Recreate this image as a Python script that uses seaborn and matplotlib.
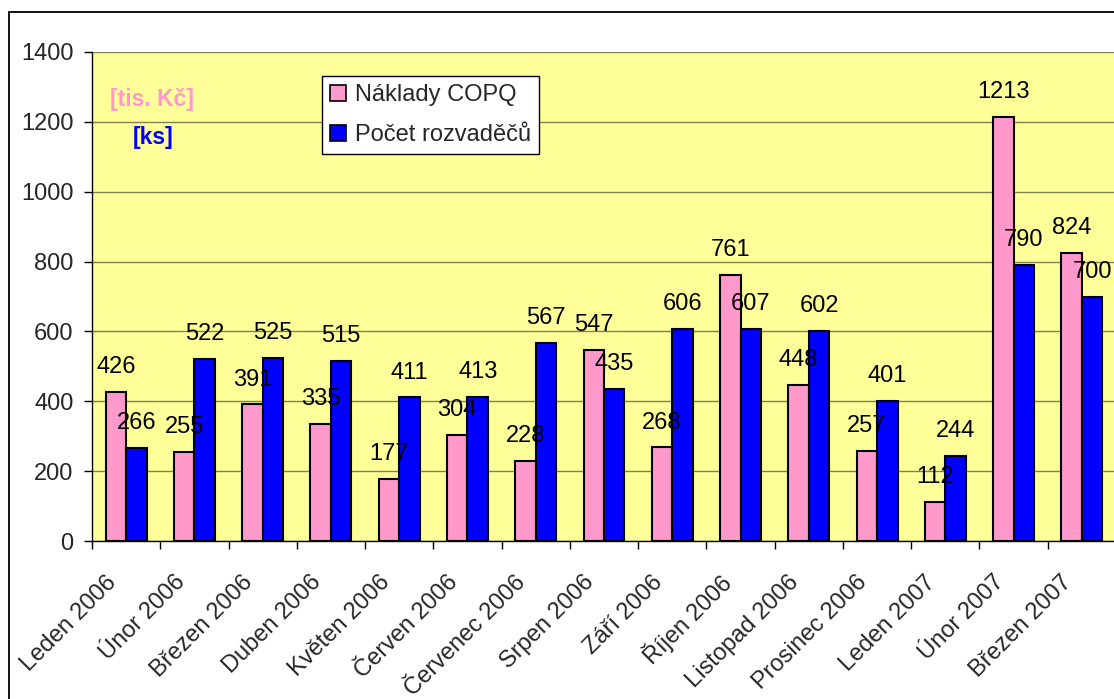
import matplotlib
matplotlib.use('Agg')
import matplotlib.pyplot as plt
import matplotlib.transforms as mtransforms
from matplotlib.patches import Rectangle
import seaborn as sns
import pandas as pd
import numpy as np

# ---- data ----
mesice = ["Leden 2006", "Únor 2006", "Březen 2006", "Duben 2006", "Květen 2006",
          "Červen 2006", "Červenec 2006", "Srpen 2006", "Září 2006", "Říjen 2006",
          "Listopad 2006", "Prosinec 2006", "Leden 2007", "Únor 2007", "Březen 2007"]
naklady = [426, 255, 391, 335, 177, 304, 228, 547, 268, 761, 448, 257, 112, 1213, 824]
pocet = [266, 522, 525, 515, 411, 413, 567, 435, 606, 607, 602, 401, 244, 790, 700]
serie = ["Náklady COPQ", "Počet rozvaděčů"]
y_ticks = [0, 200, 400, 600, 800, 1000, 1200, 1400]
jednotky = ["[tis. Kč]", "[ks]"]

barvy = ["#FF99CC", "#0000FF"]

sns.set_style("white")
plt.rcParams['font.family'] = ['Liberation Sans', 'DejaVu Sans']

df = pd.DataFrame({
    "mesic": mesice * 2,
    "hodnota": naklady + pocet,
    "serie": [serie[0]] * len(mesice) + [serie[1]] * len(mesice),
})

W, H = 1114, 699
fig = plt.figure(figsize=(W / 100, H / 100), dpi=100)
fig.patch.set_facecolor("white")
ax = fig.add_axes([92 / W, (H - 541) / H, 1024 / W, 489 / H])

sns.barplot(data=df, x="mesic", y="hodnota", hue="serie", order=mesice, hue_order=serie,
            palette=barvy, width=0.6, gap=0, edgecolor="black", linewidth=1.5,
            saturation=1, errorbar=None, ax=ax)

ax.set_facecolor("#FFFF99")
ax.set_xlim(-0.5, len(mesice) - 0.5)
ax.set_ylim(0, 1400)
ax.set_yticks(y_ticks)
ax.yaxis.grid(True, color="#808050", linewidth=1)
ax.xaxis.grid(False)
ax.set_axisbelow(True)
ax.set_xlabel("")
ax.set_ylabel("")

for s in ["top", "right"]:
    ax.spines[s].set_visible(False)
for s in ["left", "bottom"]:
    ax.spines[s].set_color("black")
    ax.spines[s].set_linewidth(1)

ax.tick_params(axis="y", which="major", direction="out", length=5.8, width=1,
               color="black", labelsize=17, pad=7.5, left=True)
ax.set_xticks(np.arange(len(mesice)))
ax.set_xticks(np.arange(-0.5, len(mesice), 1), minor=True)
ax.tick_params(axis="x", which="major", length=0, pad=0)
ax.tick_params(axis="x", which="minor", direction="out", length=5.8, width=1,
               color="black", bottom=True)
ax.set_xticklabels(mesice, rotation=45, ha="right", va="center",
                   rotation_mode="anchor", fontsize=17)
offset = mtransforms.ScaledTranslation(-13 / 100, -38 / 100, fig.dpi_scale_trans)
for lbl in ax.get_xticklabels():
    lbl.set_transform(lbl.get_transform() + offset)

# data labels
for cont in ax.containers:
    ax.bar_label(cont, fmt="%g", padding=10, fontsize=17, color="black")

# legend
leg = ax.legend(loc="upper left", bbox_to_anchor=(322 / W, 1 - 76 / H),
                bbox_transform=fig.transFigure, frameon=True, fancybox=False,
                edgecolor="black", framealpha=1, fontsize=17,
                handlelength=0.65, handleheight=0.65, handletextpad=0.4,
                labelspacing=0.75, borderpad=0.35, borderaxespad=0, title=None)
leg.get_frame().set_linewidth(1)
for h in leg.legend_handles:
    h.set_edgecolor("black")
    h.set_linewidth(1.2)

# unit texts
ax.text(0.0586, 0.902, jednotky[0], transform=ax.transAxes, color=barvy[0],
        fontweight="bold", fontsize=16.5, ha="center", va="center")
ax.text(0.0596, 0.826, jednotky[1], transform=ax.transAxes, color=barvy[1],
        fontweight="bold", fontsize=16.5, ha="center", va="center")

# outer chart border
fig.patches.append(Rectangle((9 / W, -0.1), 1.2, 1.1 - 12 / H,
                             transform=fig.transFigure, fill=False,
                             edgecolor="black", linewidth=1.3))

fig.savefig("out.png", dpi=100)
